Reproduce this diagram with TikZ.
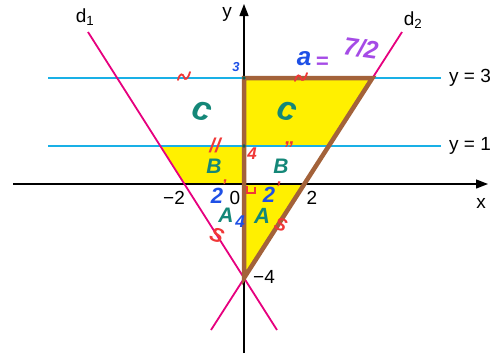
\documentclass[tikz,border=0pt]{standalone}
\usepackage{fontspec}
\setmainfont{Liberation Sans}
\usetikzlibrary{arrows.meta}
\definecolor{cyanl}{RGB}{25,176,230}
\definecolor{pinkl}{RGB}{230,0,126}
\definecolor{brownl}{RGB}{163,98,58}
\definecolor{yell}{RGB}{255,240,0}
\definecolor{hred}{RGB}{240,55,55}
\definecolor{hblue}{RGB}{30,80,230}
\definecolor{hteal}{RGB}{20,135,120}
\definecolor{hpurple}{RGB}{165,75,230}
\begin{document}
\begin{tikzpicture}[x=1pt,y=-1pt,
  axisline/.style={line width=1.3pt,-{Triangle[length=12pt,width=9pt]}},
  bline/.style={cyanl,line width=2.2pt},
  pline/.style={pinkl,line width=1.8pt},
  fillreg/.style={fill=yell,draw=none},
  lab/.style={font=\fontsize{19}{22}\selectfont,inner sep=0pt},
  hw/.style={font=\fontsize{#1}{#1}\selectfont\bfseries\itshape,inner sep=0pt},
  hw/.default=16,
  tick/.style={hred,line width=1.8pt,line cap=round}]
\useasboundingbox (0,0) rectangle (498,357);
% key points
\coordinate (O) at (244,184);
\coordinate (A) at (244,278);
\coordinate (T) at (244,78);
\coordinate (TR) at (372.4,78);
\coordinate (M) at (244,146);
\coordinate (d1t) at (88,32);
\coordinate (d1b) at (277,330);
\coordinate (d2t) at (402,32);
\coordinate (d2b) at (211,330);
% yellow regions
\fill[fillreg] (T) -- (TR) -- (328.7,146) -- (M) -- cycle;
\fill[fillreg] (160.3,146) -- (M) -- (O) -- (184.4,184) -- cycle;
\fill[fillreg] (O) -- (304.3,184) -- (A) -- cycle;
% horizontal lines
\coordinate (b3l) at (48,78);  \coordinate (b3r) at (441,78);
\coordinate (b1l) at (48,146); \coordinate (b1r) at (441,146);
\draw[bline] (b3l) -- (b3r);
\draw[bline] (b1l) -- (b1r);
% axes
\coordinate (xl) at (13,184); \coordinate (xr) at (488,184);
\coordinate (yb) at (244,353); \coordinate (yt) at (244,4);
\draw[axisline] (xl) -- (xr);
\draw[axisline] (yb) -- (yt);
% lines d1, d2
\draw[pline] (d1t) -- (d1b);
\draw[pline] (d2t) -- (d2b);
% brown outline
\draw[brownl,line width=4.5pt,line join=miter] (A) -- (T) -- (TR) -- cycle;
% labels
\node[lab] (ylab) at (227,14) {y};
\node[lab] (xlab) at (481,203) {x};
\node[lab] (d1lab) at (85,17) {d\textsubscript{1}};
\node[lab] (d2lab) at (413,20) {d\textsubscript{2}};
\node[lab] (y3) at (470,78) {y = 3};
\node[lab] (y1) at (470,146) {y = 1};
\node[lab] (m2) at (174,198) {−2};
\node[lab] (p2) at (312,198) {2};
\node[lab] (zero) at (235,198) {0};
\node[lab] (m4) at (264,277) {−4};
% handwritten notes
\node[hw=13,text=hblue] (h3) at (236,67) {3};
\fill[hteal!70!black] (T) circle (1.8);
\fill[hteal!70!black] (M) circle (1.8);
\node[hw=26,text=hblue] (ha) at (304,59) {a};
\node[hw=22,text=hpurple] (heq) at (322,63) {=};
\node[hw=25,text=hpurple,rotate=-8] (h72) at (361,48) {7/2};
\draw[tick] (178,80) .. controls (180,72) and (183,74) .. (184,77) .. controls (185,81) and (188,79) .. (190,72);
\draw[tick] (295,81) .. controls (297,73) and (300,75) .. (301,78) .. controls (302,82) and (305,80) .. (307,73);
\node[hw=34,text=hteal,rotate=-15] (hc1) at (202,111) {c};
\node[hw=34,text=hteal,rotate=-15] (hc2) at (287,111) {c};
\node[hw=20,text=hred] (hs1) at (215,145) {//};
\node[hw=20,text=hred] (hs2) at (288,149) {"};
\node[hw=17,text=hred] (h4) at (252,154) {4};
\node[hw=21,text=hteal] (hb1) at (214,166) {B};
\node[hw=21,text=hteal] (hb2) at (281,166) {B};
\node[hw=17,text=hred] (ht1) at (224,186) {'};
\node[hw=17,text=hred] (ht2) at (278,188) {'};
\node[hw=22,text=hblue] (h2a) at (217,196) {2};
\node[hw=22,text=hblue] (h2b) at (269,195) {2};
\draw[hred,line width=1.3pt] (247,186) -- (247,193) -- (255,193) -- (255,187);
\node[hw=21,text=hteal] (ha1) at (226,215) {A};
\node[hw=17,text=hblue] (h4b) at (240,222) {4};
\node[hw=22,text=hteal] (ha2) at (262,216) {A};
\node[hw=20,text=hred,rotate=-20] (hS1) at (217,235) {S};
\node[hw=18,text=hred,rotate=-20] (hS2) at (281,225) {S};
\end{tikzpicture}
\end{document}
